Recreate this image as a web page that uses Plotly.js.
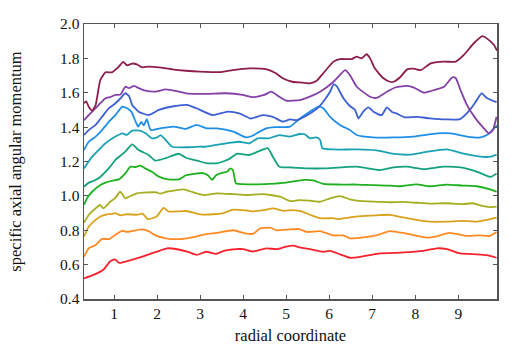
<!DOCTYPE html>
<html>
<head>
<meta charset="utf-8">
<script src="https://cdn.plot.ly/plotly-3.0.1.min.js"></script>
<style>
  html, body { margin: 0; padding: 0; background: #fff; }
  #chart { width: 522px; height: 354px; }
</style>
</head>
<body>
<div id="chart"></div>
<script>
// Radial profiles of specific axial angular momentum, one curve per level.
const r_red = [0.3,0.52,0.75,0.91,1.02,1.12,1.3,1.6,1.84,2.07,2.23,2.5,2.72,2.92,3.14,3.37,3.55,3.83,4.0,4.22,4.53,4.78,5.0,5.17,5.32,5.55,5.86,6.02,6.25,6.48,6.72,7.18,7.65,8.19,8.5,8.74,9.04,9.43,9.66,9.89];
const j_red = [0.52,0.54,0.57,0.62,0.63,0.61,0.62,0.642,0.663,0.682,0.695,0.688,0.674,0.657,0.675,0.662,0.68,0.69,0.69,0.676,0.695,0.69,0.705,0.71,0.70,0.69,0.675,0.68,0.66,0.64,0.645,0.665,0.67,0.68,0.695,0.69,0.665,0.66,0.655,0.64];

const r_orange = [0.3,0.41,0.57,0.72,0.88,1.03,1.18,1.3,1.45,1.65,1.8,1.96,2.2,2.5,2.69,2.85,3.0,3.15,3.39,3.77,4.08,4.24,4.39,4.63,4.78,5.09,5.3,5.48,5.79,6.09,6.33,6.48,6.79,7.1,7.41,7.8,8.27,8.5,8.8,9.2,9.5,9.73,9.89];
const j_orange = [0.646,0.695,0.714,0.75,0.748,0.773,0.797,0.79,0.797,0.805,0.795,0.77,0.753,0.748,0.753,0.76,0.77,0.778,0.785,0.80,0.78,0.78,0.81,0.815,0.80,0.805,0.807,0.79,0.795,0.77,0.77,0.753,0.758,0.77,0.795,0.78,0.757,0.765,0.785,0.767,0.77,0.767,0.79];

const r_gold = [0.3,0.41,0.57,0.68,0.83,0.95,1.02,1.15,1.3,1.53,1.66,1.78,1.99,2.15,2.26,2.53,2.69,3.0,3.3,3.54,3.77,4.08,4.24,4.47,4.7,4.93,5.17,5.36,5.55,5.79,6.09,6.2,6.48,6.72,7.1,7.41,7.72,8.03,8.34,8.72,9.1,9.43,9.66,9.89];
const j_gold = [0.763,0.82,0.86,0.88,0.893,0.895,0.90,0.887,0.893,0.89,0.897,0.865,0.88,0.93,0.91,0.91,0.912,0.893,0.893,0.90,0.92,0.915,0.91,0.917,0.927,0.913,0.917,0.91,0.89,0.87,0.87,0.865,0.875,0.882,0.887,0.89,0.875,0.86,0.85,0.85,0.855,0.85,0.86,0.873];

const r_olive = [0.3,0.41,0.57,0.67,0.75,0.91,1.02,1.14,1.26,1.37,1.53,1.76,1.99,2.07,2.22,2.46,2.61,2.85,3.08,3.39,3.77,4.08,4.47,4.86,5.09,5.3,5.55,5.79,6.02,6.25,6.48,6.64,7.03,7.41,7.72,8.03,8.34,8.72,9.1,9.33,9.58,9.73,9.89];
const j_olive = [0.844,0.889,0.928,0.947,0.928,0.966,0.986,1.024,0.986,0.998,1.015,1.02,1.02,1.013,1.024,1.034,1.038,1.02,1.005,1.015,1.01,1.005,1.01,0.995,0.97,0.975,0.972,0.966,0.986,0.999,0.98,0.972,0.966,0.963,0.965,0.96,0.955,0.957,0.952,0.957,0.94,0.935,0.938];

const r_green = [0.3,0.37,0.49,0.68,0.8,0.95,1.11,1.26,1.38,1.5,1.61,1.72,1.88,2.04,2.26,2.5,2.67,2.9,3.06,3.18,3.28,3.37,3.53,3.63,3.7,3.76,3.83,3.9,4.22,4.61,5.0,5.4,5.63,5.86,6.25,6.64,7.03,7.41,7.65,8.03,8.34,8.72,9.1,9.43,9.74,9.89];
const j_green = [0.947,0.986,1.024,1.063,1.077,1.088,1.096,1.131,1.17,1.168,1.176,1.16,1.14,1.112,1.096,1.096,1.12,1.13,1.133,1.12,1.093,1.12,1.135,1.14,1.16,1.15,1.073,1.07,1.067,1.07,1.077,1.093,1.09,1.07,1.066,1.066,1.062,1.06,1.056,1.067,1.056,1.066,1.06,1.056,1.038,1.024];

const r_seagreen = [0.3,0.41,0.53,0.68,0.8,0.91,1.03,1.26,1.42,1.57,1.8,1.96,2.2,2.5,2.67,3.0,3.14,3.41,3.68,3.85,4.14,4.34,4.57,4.69,4.84,5.14,5.5,5.86,6.64,7.18,7.5,7.81,8.2,8.51,8.65,9.05,9.44,9.75,9.89];
const j_seagreen = [1.053,1.077,1.088,1.11,1.14,1.17,1.21,1.257,1.30,1.267,1.238,1.205,1.22,1.245,1.222,1.2,1.19,1.19,1.215,1.245,1.238,1.257,1.277,1.228,1.17,1.165,1.16,1.16,1.17,1.15,1.166,1.17,1.155,1.166,1.17,1.166,1.14,1.11,1.13];

const r_teal = [0.3,0.49,0.64,0.8,1.03,1.19,1.3,1.42,1.6,1.73,1.88,2.0,2.08,2.2,2.35,2.72,3.0,3.14,3.6,3.91,4.14,4.34,4.6,4.84,5.09,5.32,5.44,5.55,5.7,5.79,5.84,6.09,6.64,7.1,7.5,7.88,8.28,8.74,9.05,9.52,9.75,9.89];
const j_teal = [1.16,1.228,1.267,1.306,1.345,1.364,1.355,1.38,1.38,1.364,1.335,1.34,1.354,1.325,1.286,1.283,1.286,1.286,1.306,1.315,1.306,1.335,1.335,1.354,1.345,1.36,1.357,1.335,1.34,1.325,1.277,1.27,1.27,1.265,1.244,1.24,1.257,1.27,1.25,1.228,1.228,1.24];

const r_azure = [0.3,0.41,0.57,0.72,0.88,1.03,1.19,1.3,1.4,1.5,1.56,1.63,1.69,1.76,1.85,2.07,2.38,2.67,2.92,3.15,3.39,3.77,4.07,4.22,4.53,4.76,5.09,5.32,5.55,5.75,5.86,6.02,6.25,6.48,6.64,7.02,7.5,7.95,8.51,8.83,9.2,9.52,9.7,9.8,9.9];
const j_azure = [1.267,1.315,1.345,1.383,1.432,1.47,1.519,1.51,1.49,1.432,1.403,1.43,1.41,1.447,1.383,1.393,1.403,1.39,1.413,1.393,1.393,1.374,1.34,1.35,1.393,1.40,1.403,1.45,1.49,1.519,1.51,1.46,1.413,1.383,1.354,1.34,1.34,1.345,1.364,1.364,1.345,1.34,1.36,1.385,1.41];

const r_blue = [0.3,0.41,0.57,0.72,0.88,1.03,1.15,1.26,1.35,1.42,1.57,1.8,2.04,2.35,2.69,2.91,3.29,3.64,3.91,4.18,4.45,4.69,4.92,5.09,5.25,5.4,5.71,5.86,6.02,6.1,6.17,6.33,6.48,6.6,6.68,6.79,6.91,7.03,7.22,7.34,7.45,7.56,7.76,8.03,8.34,8.72,9.04,9.27,9.43,9.54,9.66,9.89];
const j_blue = [1.354,1.383,1.413,1.46,1.51,1.539,1.568,1.597,1.58,1.529,1.49,1.47,1.5,1.52,1.529,1.51,1.47,1.49,1.48,1.45,1.47,1.46,1.432,1.445,1.44,1.457,1.506,1.548,1.606,1.649,1.64,1.568,1.523,1.5,1.451,1.49,1.515,1.49,1.47,1.515,1.49,1.48,1.457,1.46,1.451,1.445,1.447,1.5,1.557,1.597,1.57,1.545];

const r_purple = [0.3,0.41,0.57,0.68,0.8,0.91,1.03,1.15,1.26,1.35,1.46,1.57,1.73,1.96,2.2,2.5,2.67,3.14,3.6,3.99,4.22,4.49,4.65,4.84,5.0,5.32,5.55,5.79,6.1,6.37,6.48,6.64,6.95,7.1,7.34,7.55,7.81,7.97,8.2,8.36,8.67,8.86,8.94,9.05,9.2,9.4,9.56,9.71,9.8,9.89];
const j_purple = [1.44,1.47,1.51,1.539,1.568,1.575,1.587,1.59,1.635,1.627,1.64,1.627,1.612,1.607,1.62,1.607,1.597,1.594,1.597,1.587,1.574,1.587,1.606,1.577,1.554,1.557,1.577,1.606,1.664,1.732,1.703,1.635,1.577,1.57,1.606,1.632,1.64,1.63,1.6,1.61,1.635,1.69,1.686,1.616,1.529,1.451,1.403,1.364,1.38,1.46];

const r_maroon = [0.3,0.35,0.41,0.49,0.57,0.68,0.8,0.95,1.11,1.21,1.3,1.42,1.53,1.65,1.8,2.04,2.35,2.67,3.0,3.45,3.76,4.14,4.53,4.76,4.92,5.14,5.32,5.55,5.71,5.86,6.1,6.25,6.52,6.64,6.75,6.87,6.95,7.06,7.26,7.41,7.5,7.66,7.81,7.97,8.13,8.36,8.67,8.94,9.13,9.36,9.56,9.67,9.83,9.9];
const j_maroon = [1.539,1.55,1.519,1.496,1.529,1.674,1.719,1.719,1.752,1.78,1.76,1.77,1.765,1.748,1.752,1.748,1.736,1.728,1.723,1.72,1.732,1.742,1.737,1.713,1.684,1.664,1.66,1.655,1.67,1.713,1.781,1.796,1.796,1.81,1.8,1.824,1.8,1.742,1.684,1.664,1.664,1.693,1.736,1.74,1.732,1.771,1.781,1.781,1.82,1.888,1.93,1.915,1.878,1.845];

const xTicks = [1, 2, 3, 4, 5, 6, 7, 8, 9];
const yTicks = [0.4, 0.6, 0.8, 1.0, 1.2, 1.4, 1.6, 1.8, 2.0];

const series = [
  [r_red, j_red, '#f5222d'],
  [r_orange, j_orange, '#ff8a24'],
  [r_gold, j_gold, '#d9a21c'],
  [r_olive, j_olive, '#a6ad1f'],
  [r_green, j_green, '#1fb01f'],
  [r_seagreen, j_seagreen, '#14a27e'],
  [r_teal, j_teal, '#1aa2b2'],
  [r_azure, j_azure, '#1e8ee6'],
  [r_blue, j_blue, '#3d5fd4'],
  [r_purple, j_purple, '#8440a6'],
  [r_maroon, j_maroon, '#8c1d4c']
];

const traces = series.map(([x, y, c]) => ({
  x: x, y: y, type: 'scatter', mode: 'lines',
  line: { color: c, width: 1.8, shape: 'spline', smoothing: 0.5 },
  hoverinfo: 'skip', showlegend: false
}));

const serif = '"Liberation Serif", "Times New Roman", serif';
const tickFont = { family: serif, size: 15.5, color: '#111' };
const titleFont = { family: serif, size: 16.5, color: '#111' };

const axisBase = {
  showline: true, linecolor: '#555', linewidth: 1.5, mirror: 'ticks',
  ticks: 'inside', ticklen: 4, tickwidth: 1, tickcolor: '#555',
  showgrid: false, zeroline: false, tickfont: tickFont
};

const layout = {
  width: 522, height: 354,
  margin: { l: 84, r: 25, t: 24, b: 55 },
  paper_bgcolor: '#fff', plot_bgcolor: '#fff',
  font: tickFont,
  xaxis: Object.assign({}, axisBase, {
    range: [0.3, 9.9], tickmode: 'array', tickvals: xTicks,
    title: { text: 'radial coordinate', font: titleFont, standoff: 8 }
  }),
  yaxis: Object.assign({}, axisBase, {
    range: [0.4, 2.0], tickmode: 'array', tickvals: yTicks,
    ticktext: yTicks.map(v => v.toFixed(1)),
    title: { text: 'specific axial angular momentum', font: titleFont, standoff: 34 }
  })
};

Plotly.newPlot('chart', traces, layout, { staticPlot: true, displayModeBar: false });
</script>
</body>
</html>
